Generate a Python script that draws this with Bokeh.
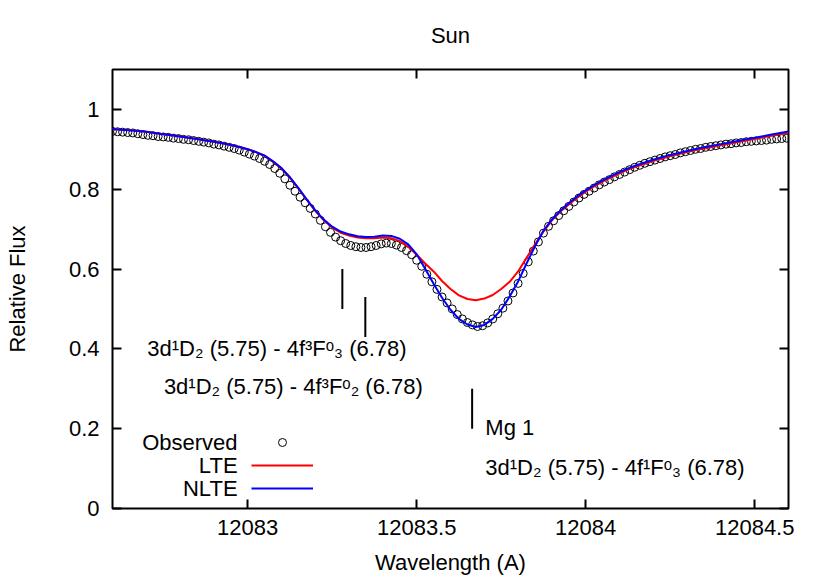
from bokeh.plotting import figure
from bokeh.models import (FixedTicker, LinearAxis, Legend, LegendItem, Label,
                          Range1d, CustomJSTickFormatter)
from bokeh.embed import file_html
from bokeh.resources import INLINE

FONT = "Liberation Sans"
FS = "22px"

title_text = "Sun"
x_label = "Wavelength (A)"
y_label = "Relative Flux"
x_ticks = [12083, 12083.5, 12084, 12084.5]
x_tick_labels = ["12083", "12083.5", "12084", "12084.5"]
y_ticks = [0, 0.2, 0.4, 0.6, 0.8, 1]
y_tick_labels = ["0", "0.2", "0.4", "0.6", "0.8", "1"]

series_names = ["Observed", "LTE", "NLTE"]

obs_wave = [
    12082.600, 12082.615, 12082.630, 12082.645, 12082.660, 12082.675, 12082.690, 12082.705, 12082.720, 12082.735,
    12082.750, 12082.765, 12082.780, 12082.795, 12082.810, 12082.825, 12082.840, 12082.855, 12082.870, 12082.885,
    12082.900, 12082.915, 12082.930, 12082.945, 12082.960, 12082.975, 12082.990, 12083.005, 12083.020, 12083.035,
    12083.050, 12083.065, 12083.080, 12083.095, 12083.110, 12083.125, 12083.140, 12083.155, 12083.170, 12083.185,
    12083.200, 12083.215, 12083.230, 12083.245, 12083.260, 12083.275, 12083.290, 12083.305, 12083.320, 12083.335,
    12083.350, 12083.365, 12083.380, 12083.395, 12083.410, 12083.425, 12083.440, 12083.455, 12083.470, 12083.485,
    12083.500, 12083.515, 12083.530, 12083.545, 12083.560, 12083.575, 12083.590, 12083.605, 12083.620, 12083.635,
    12083.650, 12083.665, 12083.680, 12083.695, 12083.710, 12083.725, 12083.740, 12083.755, 12083.770, 12083.785,
    12083.800, 12083.815, 12083.830, 12083.845, 12083.860, 12083.875, 12083.890, 12083.905, 12083.920, 12083.935,
    12083.950, 12083.965, 12083.980, 12083.995, 12084.010, 12084.025, 12084.040, 12084.055, 12084.070, 12084.085,
    12084.100, 12084.115, 12084.130, 12084.145, 12084.160, 12084.175, 12084.190, 12084.205, 12084.220, 12084.235,
    12084.250, 12084.265, 12084.280, 12084.295, 12084.310, 12084.325, 12084.340, 12084.355, 12084.370, 12084.385,
    12084.400, 12084.415, 12084.430, 12084.445, 12084.460, 12084.475, 12084.490, 12084.505, 12084.520, 12084.535,
    12084.550, 12084.565, 12084.580, 12084.595,
]
obs_flux = [
    0.945, 0.944, 0.943, 0.942, 0.941, 0.939, 0.937, 0.935, 0.934, 0.932,
    0.931, 0.930, 0.928, 0.927, 0.925, 0.924, 0.922, 0.920, 0.918, 0.916,
    0.913, 0.911, 0.908, 0.905, 0.902, 0.898, 0.893, 0.888, 0.883, 0.877,
    0.870, 0.862, 0.852, 0.840, 0.826, 0.810, 0.795, 0.780, 0.766, 0.752,
    0.738, 0.722, 0.706, 0.692, 0.680, 0.671, 0.664, 0.659, 0.656, 0.654,
    0.654, 0.656, 0.659, 0.663, 0.665, 0.664, 0.660, 0.654, 0.646, 0.636,
    0.622, 0.607, 0.587, 0.568, 0.549, 0.530, 0.515, 0.500, 0.486, 0.475,
    0.466, 0.460, 0.456, 0.458, 0.465, 0.475, 0.488, 0.502, 0.520, 0.540,
    0.564, 0.589, 0.618, 0.645, 0.668, 0.690, 0.707, 0.721, 0.734, 0.746,
    0.757, 0.768, 0.778, 0.787, 0.795, 0.803, 0.811, 0.818, 0.824, 0.831,
    0.837, 0.843, 0.849, 0.855, 0.860, 0.865, 0.869, 0.873, 0.877, 0.881,
    0.884, 0.887, 0.891, 0.894, 0.897, 0.900, 0.902, 0.905, 0.907, 0.909,
    0.911, 0.913, 0.914, 0.916, 0.917, 0.919, 0.920, 0.921, 0.922, 0.923,
    0.925, 0.926, 0.927, 0.928,
]

model_wave = [
    12082.600, 12082.625, 12082.650, 12082.675, 12082.700, 12082.725, 12082.750, 12082.775, 12082.800, 12082.825,
    12082.850, 12082.875, 12082.900, 12082.925, 12082.950, 12082.975, 12083.000, 12083.025, 12083.050, 12083.075,
    12083.100, 12083.125, 12083.150, 12083.175, 12083.200, 12083.225, 12083.250, 12083.275, 12083.300, 12083.325,
    12083.350, 12083.375, 12083.400, 12083.425, 12083.450, 12083.475, 12083.500, 12083.525, 12083.550, 12083.575,
    12083.600, 12083.625, 12083.650, 12083.675, 12083.700, 12083.725, 12083.750, 12083.775, 12083.800, 12083.825,
    12083.850, 12083.875, 12083.900, 12083.925, 12083.950, 12083.975, 12084.000, 12084.025, 12084.050, 12084.075,
    12084.100, 12084.125, 12084.150, 12084.175, 12084.200, 12084.225, 12084.250, 12084.275, 12084.300, 12084.325,
    12084.350, 12084.375, 12084.400, 12084.425, 12084.450, 12084.475, 12084.500, 12084.525, 12084.550, 12084.575,
    12084.600,
]
nlte_flux = [
    0.951, 0.949, 0.948, 0.946, 0.944, 0.941, 0.938, 0.935, 0.932, 0.929,
    0.926, 0.922, 0.919, 0.915, 0.911, 0.906, 0.900, 0.893, 0.884, 0.870,
    0.853, 0.830, 0.803, 0.774, 0.747, 0.724, 0.706, 0.694, 0.687, 0.682,
    0.680, 0.681, 0.684, 0.683, 0.676, 0.662, 0.637, 0.601, 0.563, 0.528,
    0.498, 0.475, 0.461, 0.455, 0.460, 0.475, 0.498, 0.531, 0.569, 0.614,
    0.657, 0.696, 0.724, 0.746, 0.765, 0.782, 0.797, 0.810, 0.822, 0.833,
    0.843, 0.852, 0.860, 0.867, 0.874, 0.880, 0.886, 0.891, 0.896, 0.901,
    0.905, 0.909, 0.913, 0.917, 0.921, 0.925, 0.929, 0.933, 0.937, 0.941,
    0.945,
]
lte_flux = [
    0.951, 0.949, 0.948, 0.946, 0.944, 0.941, 0.938, 0.935, 0.932, 0.929,
    0.926, 0.922, 0.919, 0.915, 0.911, 0.906, 0.900, 0.893, 0.884, 0.869,
    0.852, 0.829, 0.802, 0.773, 0.746, 0.722, 0.704, 0.691, 0.684, 0.679,
    0.677, 0.677, 0.679, 0.677, 0.670, 0.656, 0.636, 0.614, 0.594, 0.570,
    0.550, 0.534, 0.525, 0.522, 0.526, 0.535, 0.550, 0.568, 0.594, 0.628,
    0.662, 0.694, 0.722, 0.744, 0.762, 0.779, 0.794, 0.807, 0.819, 0.830,
    0.840, 0.849, 0.857, 0.864, 0.871, 0.877, 0.883, 0.888, 0.893, 0.898,
    0.902, 0.906, 0.910, 0.914, 0.918, 0.922, 0.926, 0.930, 0.934, 0.938,
    0.942,
]

# line identification markers (wavelength, flux from, flux to)
marker_wave = [12083.280, 12083.348, 12083.664]
marker_low = [0.50, 0.43, 0.20]
marker_high = [0.60, 0.53, 0.30]

line_ids = [
    "3d\u00b9D\u2082 (5.75) - 4f\u00b3F\u1d52\u2083 (6.78)",
    "3d\u00b9D\u2082 (5.75) - 4f\u00b3F\u1d52\u2082 (6.78)",
    "Mg 1",
    "3d\u00b9D\u2082 (5.75) - 4f\u00b9F\u1d52\u2083 (6.78)",
]

p = figure(width=830, height=581, output_backend="svg", toolbar_location=None,
           x_range=Range1d(12082.6, 12084.6), y_range=Range1d(0, 1.1),
           min_border_left=112, min_border_right=42, min_border_top=69,
           min_border_bottom=73, x_axis_location=None, y_axis_location=None)
p.background_fill_color = "white"
p.border_fill_color = "white"
p.outline_line_color = "black"
p.outline_line_width = 2
p.xgrid.visible = False
p.ygrid.visible = False

p.title.text = title_text
p.title.align = "center"
p.title.vertical_align = "top"
p.title.text_font = FONT
p.title.text_font_size = FS
p.title.text_font_style = "normal"
p.title.text_color = "black"
p.title.standoff = 40


def style_axis(ax, show_labels):
    ax.major_tick_in = 9
    ax.major_tick_out = 0
    ax.major_tick_line_width = 2
    ax.major_tick_line_color = "black"
    ax.minor_tick_line_color = None
    ax.axis_line_color = None
    ax.major_label_text_font = FONT
    ax.major_label_text_font_size = FS
    ax.major_label_text_color = "black"
    ax.axis_label_text_font = FONT
    ax.axis_label_text_font_size = FS
    ax.axis_label_text_font_style = "normal"
    ax.axis_label_text_color = "black"
    if not show_labels:
        ax.formatter = CustomJSTickFormatter(code="return ''")
        ax.major_label_text_color = None
        ax.major_label_text_font_size = "1px"
        ax.major_label_standoff = 0


xb = LinearAxis(ticker=FixedTicker(ticks=x_ticks), axis_label=x_label)
style_axis(xb, True)
xb.major_label_overrides = {t: s for t, s in zip(x_ticks, x_tick_labels)}
xb.major_label_standoff = 11
xb.axis_label_standoff = 12
p.add_layout(xb, "below")

yl = LinearAxis(ticker=FixedTicker(ticks=y_ticks), axis_label=y_label)
style_axis(yl, True)
yl.major_label_overrides = {t: s for t, s in zip(y_ticks, y_tick_labels)}
yl.major_label_standoff = 13
yl.axis_label_standoff = 36
p.add_layout(yl, "left")

xt = LinearAxis(ticker=FixedTicker(ticks=x_ticks))
style_axis(xt, False)
p.add_layout(xt, "above")

yr = LinearAxis(ticker=FixedTicker(ticks=y_ticks))
style_axis(yr, False)
p.add_layout(yr, "right")

obs_r = p.scatter(obs_wave, obs_flux, marker="circle", size=8,
                  line_color="black", line_width=1, fill_color=None)
lte_r = p.line(model_wave, lte_flux, line_color="#ff0000", line_width=2)
nlte_r = p.line(model_wave, nlte_flux, line_color="#0000ff", line_width=2)

p.segment(x0=marker_wave, y0=marker_low, x1=marker_wave, y1=marker_high,
          line_color="black", line_width=2)

label_pos = [(12082.703, 0.401), (12082.752, 0.305), (12083.703, 0.203), (12083.703, 0.103)]
for (lx, ly), txt in zip(label_pos, line_ids):
    p.add_layout(Label(x=lx, y=ly, text=txt, text_font=FONT, text_font_size=FS,
                       text_align="left", text_baseline="alphabetic", text_color="black"))

legend = Legend(items=[LegendItem(label=" ", renderers=[r]) for r in (obs_r, lte_r, nlte_r)],
                location=(139, 10), glyph_width=62, glyph_height=20, spacing=3,
                padding=0, margin=0, border_line_alpha=0, background_fill_alpha=0,
                label_text_font_size="1px", label_standoff=0, label_height=20,
                label_width=0)
p.add_layout(legend)

legend_y = [0.1654, 0.1077, 0.0501]
for name, ly in zip(series_names, legend_y):
    p.add_layout(Label(x=12082.970, y=ly, text=name, text_font=FONT, text_font_size=FS,
                       text_align="right", text_baseline="alphabetic", text_color="black"))

open("out.html", "w").write(file_html(p, INLINE))
